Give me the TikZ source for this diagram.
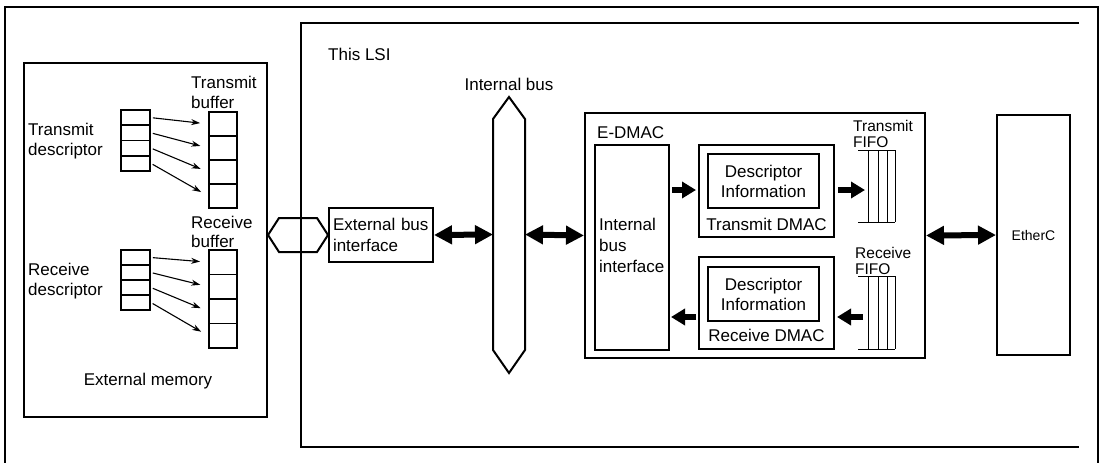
\documentclass[tikz,border=0pt]{standalone}
\usepackage{fontspec}
\setmainfont{Liberation Sans}
\usetikzlibrary{arrows.meta}

\tikzset{
    box/.style = {draw, line width=2pt, inner sep=0pt},
    cell/.style = {draw, line width=1.8pt, inner sep=0pt},
    hold/.style = {inner sep=0pt, outer sep=0pt},
    lbl/.style = {inner sep=0pt, align=left},
    small/.style = {inner sep=0pt, align=left, font=\fontsize{15.5}{16}\selectfont},
    ptr/.style = {line width=1.1pt, -{Stealth[length=9pt,width=6pt]}, shorten <=2pt, shorten >=8pt},
    fat/.style = {line width=5.5pt, -{Triangle[length=14pt,width=16pt]}},
    dfat/.style = {line width=6pt, {Triangle[length=18pt,width=18pt]}-{Triangle[length=18pt,width=18pt]}},
    fifo/.style = {line width=1pt}
}

\begin{document}
\begin{tikzpicture}[x=1pt, y=-1pt, font=\fontsize{17}{20}\selectfont]
    \useasboundingbox (0,0) rectangle (1104,463);

    % outer frame, open at the bottom
    \draw[line width=2.5pt] (5,463) -- (5,7) -- (1098,7) -- (1098,463);

    % this LSI, open at the right
    \draw[line width=2pt] (1079,23) -- (301,23) -- (301,447) -- (1079,447);
    \node[lbl, anchor=base west] (lsi) at (328,60) {This LSI};

    % external memory
    \node[box, minimum width=243pt, minimum height=354pt] (extmem) at (145.5,240) {};
    \node[lbl, anchor=base] (extmemlbl) at (148,385) {External memory};

    % descriptors and buffers
    \foreach \i in {0,...,3} {
        \node[cell, minimum width=29pt, minimum height=15.25pt] (td\i) at (135.5,117.6+15.25*\i) {};
        \node[cell, minimum width=28pt, minimum height=24pt] (tb\i) at (223,124+24*\i) {};
        \node[cell, minimum width=29pt, minimum height=15pt] (rd\i) at (135.5,257.5+15*\i) {};
        \node[cell, minimum width=28pt, minimum height=24.5pt] (rb\i) at (223,262.25+24.5*\i) {};
        \draw[ptr] (td\i.east) -- (tb\i.west);
        \draw[ptr] (rd\i.east) -- (rb\i.west);
    }
    \node[lbl, anchor=north west] (tdlbl) at (28,122.7) {Transmit\\descriptor};
    \node[lbl, anchor=north west] (tblbl) at (191,75.7) {Transmit\\buffer};
    \node[lbl, anchor=north west] (rdlbl) at (28,262.7) {Receive\\descriptor};
    \node[lbl, anchor=north west, font=\fontsize{17}{19}\selectfont] (rblbl) at (191,215.7) {Receive\\buffer};

    % external bus
    \node[hold, minimum width=38pt, minimum height=34pt] (exbus) at (298,235) {};
    \draw[box] (exbus.north west) -- (exbus.north east) -- ([xshift=11pt]exbus.east)
        -- (exbus.south east) -- (exbus.south west) -- ([xshift=-11pt]exbus.west) -- cycle;
    \node[box, lbl, text width=96pt, inner xsep=4pt, minimum height=54pt,
        font=\fontsize{17}{21}\selectfont] (ebi) at (381,235) {External bus\\interface};

    % internal bus
    \node[hold, minimum width=32pt, minimum height=231pt] (ibus) at (509,234.5) {};
    \draw[box] (ibus.north west) -- ([yshift=22pt]ibus.north) -- (ibus.north east)
        -- (ibus.south east) -- ([yshift=-23pt]ibus.south) -- (ibus.south west) -- cycle;
    \node[lbl, anchor=base] (ibuslbl) at (509,90) {Internal bus};

    % E-DMAC
    \node[box, minimum width=340pt, minimum height=245pt] (edmac) at (755,235.5) {};
    \node[lbl, anchor=base west] (edmaclbl) at (597,138) {E-DMAC};
    \node[box, minimum width=74pt, minimum height=205pt] (ibi) at (632,247.5) {};
    \node[lbl, anchor=north west, font=\fontsize{17}{21}\selectfont] (ibilbl) at (599,217.7) {Internal\\bus\\interface};

    % transmit and receive DMAC
    \node[box, minimum width=135pt, minimum height=92pt] (txdmac) at (766.5,191) {};
    \node[box, minimum width=111pt, minimum height=54pt, align=center] (txdesc) at (763.5,181) {Descriptor\\Information};
    \node[lbl, anchor=base] (txlbl) at (766.5,230) {Transmit DMAC};
    \node[box, minimum width=135pt, minimum height=92pt] (rxdmac) at (766.5,303) {};
    \node[box, minimum width=111pt, minimum height=54pt, align=center] (rxdesc) at (763.5,294) {Descriptor\\Information};
    \node[lbl, anchor=base] (rxlbl) at (766.5,341.7) {Receive DMAC};

    % FIFOs
    \node[hold, minimum width=37pt, minimum height=72pt] (txfifo) at (876.5,186) {};
    \node[hold, minimum width=37pt, minimum height=73pt] (rxfifo) at (876.5,312.5) {};
    \foreach \f in {txfifo, rxfifo} {
        \draw[fifo] (\f.north west) -- (\f.north east);
        \draw[fifo] (\f.south west) -- (\f.south east);
        \foreach \dx in {10,20,29,37}
            \draw[fifo] ([xshift=\dx]\f.north west) -- ([xshift=\dx]\f.south west);
    }
    \node[small, anchor=north west] (txfifolbl) at (853,119.7) {Transmit\\FIFO};
    \node[small, anchor=north west] (rxfifolbl) at (855,246.7) {Receive\\FIFO};

    % EtherC
    \node[box, minimum width=73pt, minimum height=240pt, font=\fontsize{14}{16}\selectfont] (etherc) at (1033.5,235) {EtherC};

    % connections
    \coordinate (txrow) at (0,190);
    \coordinate (rxrow) at (0,317);
    \draw[dfat] (ebi.east) -- (ibus.west);
    \draw[dfat] (ibus.east) -- (edmac.west);
    \draw[dfat] (edmac.east) -- (etherc.west);
    \draw[fat, shorten <=2pt, shorten >=2pt] (ibi.east |- txrow) -- (txdmac.west |- txrow);
    \draw[fat, shorten <=3pt, shorten >=-7pt] (txdmac.east |- txrow) -- (txfifo.west |- txrow);
    \draw[fat, shorten <=-5pt, shorten >=2pt] (rxfifo.west |- rxrow) -- (rxdmac.east |- rxrow);
    \draw[fat, shorten <=2pt, shorten >=1pt] (rxdmac.west |- rxrow) -- (ibi.east |- rxrow);
\end{tikzpicture}
\end{document}
